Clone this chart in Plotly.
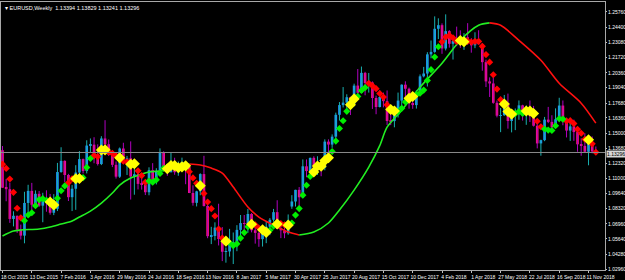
import plotly.graph_objects as go

# ---------------- data (EURUSD weekly) ----------------
tick_idx = list(range(0, 161, 8))
tick_text = ["18 Oct 2015", "13 Dec 2015", "7 Feb 2016", "3 Apr 2016", "29 May 2016",
             "24 Jul 2016", "18 Sep 2016", "13 Nov 2016", "8 Jan 2017", "5 Mar 2017",
             "30 Apr 2017", "25 Jun 2017", "20 Aug 2017", "15 Oct 2017", "10 Dec 2017",
             "4 Feb 2018", "1 Apr 2018", "27 May 2018", "22 Jul 2018", "16 Sep 2018",
             "11 Nov 2018"]

y_ticks = [1.25760, 1.24400, 1.23080, 1.21720, 1.20360, 1.19040, 1.17680, 1.16360, 1.15000,
           1.13680, 1.12320, 1.11000, 1.09640, 1.08320, 1.06960, 1.05640, 1.04280, 1.02960]

opens = [1.1350, 1.1017, 1.1004, 1.0740, 1.0768, 1.0645, 1.0592, 1.0882, 1.0989, 1.0866, 1.0963,
         1.0858, 1.0924, 1.0914, 1.0795, 1.0830, 1.1156, 1.1255, 1.1130, 1.0933, 1.1008,
         1.1152, 1.1271, 1.1165, 1.1391, 1.1399, 1.1284, 1.1227, 1.1454, 1.1403, 1.1308,
         1.1220, 1.1115, 1.1365, 1.1250, 1.1278, 1.1117, 1.1137, 1.1051, 1.1041, 1.0977,
         1.1173, 1.1086, 1.1160, 1.1325, 1.1199, 1.1154, 1.1233, 1.1155, 1.1228, 1.1240,
         1.1200, 1.0970, 1.0883, 1.0985, 1.1138, 1.0855, 1.0587, 1.0589, 1.0663, 1.0562,
         1.0449, 1.0452, 1.0520, 1.0530, 1.0643, 1.0703, 1.0697, 1.0784, 1.0640, 1.0616,
         1.0561, 1.0618, 1.0671, 1.0733, 1.0800, 1.0651, 1.0639, 1.0613, 1.0850, 1.0895,
         1.0998, 1.0932, 1.1207, 1.1165, 1.1282, 1.1196, 1.1197, 1.1195, 1.1426, 1.1400,
         1.1470, 1.1664, 1.1750, 1.1772, 1.1820, 1.1761, 1.1923, 1.1859, 1.2036, 1.1946,
         1.1951, 1.1813, 1.1733, 1.1822, 1.1785, 1.1609, 1.1608, 1.1665, 1.1790, 1.1931,
         1.1895, 1.1767, 1.1750, 1.1862, 1.2005, 1.2030, 1.2200, 1.2222, 1.2427, 1.2459,
         1.2252, 1.2406, 1.2294, 1.2318, 1.2307, 1.2290, 1.2352, 1.2323, 1.2280, 1.2330,
         1.2290, 1.2131, 1.1960, 1.1942, 1.1770, 1.1656, 1.1660, 1.1768, 1.1609, 1.1655,
         1.1684, 1.1748, 1.1685, 1.1719, 1.1655, 1.1567, 1.1410, 1.1439, 1.1621, 1.1601,
         1.1552, 1.1624, 1.1746, 1.1605, 1.1524, 1.1561, 1.1511, 1.1402, 1.1388, 1.1336,
         1.1418, 1.13394]

highs = [1.1387, 1.1095, 1.1063, 1.0808, 1.0770, 1.0690, 1.0981, 1.1043, 1.1060, 1.0993, 1.0988,
         1.0972, 1.0994, 1.0962, 1.0960, 1.1237, 1.1376, 1.1260, 1.1140, 1.1040, 1.1217,
         1.1342, 1.1276, 1.1438, 1.1454, 1.1465, 1.1402, 1.1474, 1.1616, 1.1445, 1.1350,
         1.1250, 1.1374, 1.1416, 1.1299, 1.1428, 1.1188, 1.1185, 1.1120, 1.1070, 1.1198,
         1.1235, 1.1190, 1.1366, 1.1340, 1.1200, 1.1327, 1.1283, 1.1250, 1.1284, 1.1252,
         1.1204, 1.1038, 1.0990, 1.1145, 1.1300, 1.0870, 1.0670, 1.0710, 1.0875, 1.0668,
         1.0487, 1.0652, 1.0620, 1.0685, 1.0775, 1.0775, 1.0829, 1.0792, 1.0680, 1.0630,
         1.0630, 1.0715, 1.0748, 1.0829, 1.0906, 1.0691, 1.0680, 1.0780, 1.0951, 1.0999,
         1.1023, 1.1268, 1.1268, 1.1284, 1.1296, 1.1296, 1.1218, 1.1446, 1.1446, 1.1490,
         1.1683, 1.1777, 1.1910, 1.1846, 1.1825, 1.1940, 1.2070, 1.2092, 1.2045, 1.2035,
         1.1960, 1.1834, 1.1880, 1.1861, 1.1880, 1.1689, 1.1669, 1.1861, 1.1934, 1.1961,
         1.1905, 1.1863, 1.1880, 1.2022, 1.2089, 1.2219, 1.2323, 1.2537, 1.2520, 1.2475,
         1.2555, 1.2415, 1.2355, 1.2446, 1.2413, 1.2388, 1.2477, 1.2344, 1.2396, 1.2414,
         1.2297, 1.2153, 1.1996, 1.1996, 1.1790, 1.1724, 1.1840, 1.1852, 1.1675, 1.1720,
         1.1791, 1.1753, 1.1746, 1.1791, 1.1743, 1.1620, 1.1443, 1.1645, 1.1734, 1.1660,
         1.1721, 1.1815, 1.1791, 1.1625, 1.1610, 1.1621, 1.1546, 1.1456, 1.1500, 1.1472,
         1.1472, 1.13829]

lows = [1.1017, 1.0897, 1.0705, 1.0674, 1.0616, 1.0558, 1.0524, 1.0796, 1.0804, 1.0851, 1.0848,
        1.0711, 1.0804, 1.0778, 1.0774, 1.0810, 1.1150, 1.1067, 1.0899, 1.0810, 1.0821,
        1.1058, 1.1144, 1.1144, 1.1331, 1.1234, 1.1214, 1.1218, 1.1383, 1.1298, 1.1200,
        1.1098, 1.1104, 1.1229, 1.1130, 1.0912, 1.0955, 1.1002, 1.1000, 1.0952, 1.0950,
        1.1045, 1.1046, 1.1148, 1.1195, 1.1123, 1.1154, 1.1132, 1.1123, 1.1161, 1.1048,
        1.0969, 1.0858, 1.0851, 1.0950, 1.0850, 1.0569, 1.0517, 1.0550, 1.0505, 1.0366,
        1.0352, 1.0406, 1.0340, 1.0454, 1.0580, 1.0620, 1.0618, 1.0621, 1.0521, 1.0493,
        1.0495, 1.0525, 1.0596, 1.0716, 1.0650, 1.0570, 1.0569, 1.0600, 1.0830, 1.0850,
        1.0839, 1.0925, 1.1110, 1.1160, 1.1185, 1.1131, 1.1119, 1.1172, 1.1313, 1.1371,
        1.1430, 1.1613, 1.1729, 1.1688, 1.1662, 1.1740, 1.1823, 1.1857, 1.1837, 1.1861,
        1.1716, 1.1669, 1.1729, 1.1730, 1.1574, 1.1572, 1.1553, 1.1640, 1.1715, 1.1810,
        1.1718, 1.1717, 1.1719, 1.1856, 1.1996, 1.1915, 1.2165, 1.2214, 1.2336, 1.2205,
        1.2235, 1.2260, 1.2154, 1.2273, 1.2258, 1.2240, 1.2285, 1.2215, 1.2255, 1.2290,
        1.2055, 1.1910, 1.1822, 1.1762, 1.1641, 1.1510, 1.1655, 1.1541, 1.1508, 1.1528,
        1.1620, 1.1613, 1.1575, 1.1600, 1.1560, 1.1366, 1.1301, 1.1430, 1.1590, 1.1526,
        1.1550, 1.1620, 1.1571, 1.1463, 1.1432, 1.1433, 1.1336, 1.1301, 1.1326, 1.1216,
        1.1322, 1.13241]

closes = [1.1017, 1.1004, 1.0740, 1.0768, 1.0645, 1.0592, 1.0882, 1.0989, 1.0866, 1.0963, 1.0858,
          1.0924, 1.0914, 1.0795, 1.0830, 1.1156, 1.1255, 1.1130, 1.0933, 1.1008, 1.1152,
          1.1271, 1.1165, 1.1391, 1.1399, 1.1284, 1.1227, 1.1454, 1.1403, 1.1308, 1.1220,
          1.1115, 1.1365, 1.1250, 1.1278, 1.1117, 1.1137, 1.1051, 1.1041, 1.0977, 1.1173,
          1.1086, 1.1160, 1.1325, 1.1199, 1.1154, 1.1233, 1.1155, 1.1228, 1.1240, 1.1200,
          1.0970, 1.0883, 1.0985, 1.1138, 1.0855, 1.0587, 1.0589, 1.0663, 1.0562, 1.0449,
          1.0452, 1.0520, 1.0530, 1.0643, 1.0703, 1.0697, 1.0784, 1.0640, 1.0616, 1.0561,
          1.0618, 1.0671, 1.0733, 1.0800, 1.0651, 1.0639, 1.0613, 1.0724, 1.0895, 1.0998,
          1.0932, 1.1207, 1.1165, 1.1282, 1.1196, 1.1197, 1.1195, 1.1426, 1.1400, 1.1470,
          1.1664, 1.1750, 1.1772, 1.1820, 1.1761, 1.1923, 1.1859, 1.2036, 1.1946, 1.1951,
          1.1813, 1.1733, 1.1822, 1.1785, 1.1609, 1.1608, 1.1665, 1.1790, 1.1931, 1.1895,
          1.1767, 1.1750, 1.1862, 1.2005, 1.2030, 1.2200, 1.2222, 1.2427, 1.2459, 1.2252,
          1.2406, 1.2294, 1.2318, 1.2307, 1.2290, 1.2352, 1.2323, 1.2280, 1.2330, 1.2290,
          1.2131, 1.1960, 1.1942, 1.1770, 1.1656, 1.1660, 1.1768, 1.1609, 1.1655, 1.1684,
          1.1748, 1.1685, 1.1719, 1.1655, 1.1567, 1.1410, 1.1439, 1.1621, 1.1601, 1.1552,
          1.1624, 1.1746, 1.1605, 1.1524, 1.1561, 1.1511, 1.1402, 1.1388, 1.1336, 1.1418,
          1.1339, 1.13296]

# signal dots (one per bar) and their colour code: r = falling, g = rising, y = flat
dot_values = [1.1226, 1.1188, 1.1094, 1.0976, 1.0835, 1.0750, 1.0725, 1.0775, 1.0795, 1.0858, 1.0912,
              1.0920, 1.0905, 1.0891, 1.0864, 1.0924, 1.0990, 1.1033, 1.1061, 1.1096, 1.1096,
              1.1099, 1.1106, 1.1197, 1.1276, 1.1302, 1.1293, 1.1351, 1.1353, 1.1335, 1.1322,
              1.1300, 1.1282, 1.1252, 1.1246, 1.1225, 1.1229, 1.1167, 1.1125, 1.1065, 1.1076,
              1.1066, 1.1087, 1.1144, 1.1189, 1.1185, 1.1214, 1.1213, 1.1194, 1.1202, 1.1211,
              1.1159, 1.1104, 1.1056, 1.1035, 1.0966, 1.0890, 1.0831, 1.0766, 1.0651, 1.0570,
              1.0543, 1.0529, 1.0503, 1.0519, 1.0570, 1.0619, 1.0671, 1.0693, 1.0688, 1.0660,
              1.0644, 1.0621, 1.0640, 1.0677, 1.0695, 1.0699, 1.0687, 1.0685, 1.0704, 1.0774,
              1.0832, 1.0951, 1.1039, 1.1117, 1.1156, 1.1209, 1.1207, 1.1259, 1.1283, 1.1338,
              1.1431, 1.1542, 1.1611, 1.1695, 1.1753, 1.1805, 1.1827, 1.1880, 1.1905, 1.1943,
              1.1921, 1.1896, 1.1853, 1.1821, 1.1752, 1.1711, 1.1698, 1.1691, 1.1721, 1.1778,
              1.1810, 1.1827, 1.1841, 1.1856, 1.1883, 1.1969, 1.2064, 1.2177, 1.2268, 1.2312,
              1.2353, 1.2368, 1.2346, 1.2315, 1.2323, 1.2312, 1.2318, 1.2310, 1.2315, 1.2315,
              1.2271, 1.2198, 1.2131, 1.2019, 1.1892, 1.1798, 1.1759, 1.1693, 1.1670, 1.1675,
              1.1693, 1.1676, 1.1698, 1.1698, 1.1675, 1.1607, 1.1558, 1.1538, 1.1528, 1.1525,
              1.1567, 1.1629, 1.1626, 1.1610, 1.1612, 1.1586, 1.1536, 1.1500, 1.1447, 1.1443,
              1.1406, 1.1332]

dot_codes = list("rrrrrr" "ggggggg" "yy" "ggg" "rr" "yy" "ggg" "rr" "yy" "rrr" "y" "rr" "yy"
                 "rrr" "ggggg" "yyyyyy" "rrr" "y" "rrrrrr" "y" "gggggg" "y" "rr" "yy" "gg"
                 "y" "rr" "y" "gggggg" "yyyyy" "ggggg" "yy" "ggg" "rrrrrr" "yy" "ggg" "yy"
                 "ggggggg" "rrrrr" "yy" "rrrrrrrrrr" "yyy" "ggg" "yyy" "rr" "gggggg"
                 "rrrrrr" "y" "rr")

# slow trend line, sampled readings (bar index, price) per coloured leg
trend_up1_idx = [0, 3, 5, 10, 13, 16, 19, 21, 24, 27, 30, 32, 35, 38, 40, 44, 47, 51]
trend_up1_val = [1.0589, 1.0633, 1.0642, 1.0651, 1.0668, 1.0695, 1.0722, 1.0757, 1.0810,
                 1.0881, 1.0970, 1.1041, 1.1103, 1.1138, 1.1156, 1.1169, 1.1200, 1.1227]
trend_dn1_idx = [51, 54, 57, 60, 63, 67, 70, 74, 78, 81]
trend_dn1_val = [1.1227, 1.1218, 1.1191, 1.1147, 1.1023, 1.0846, 1.0757, 1.0686, 1.0624, 1.0598]
trend_up2_idx = [81, 85, 89, 92, 96, 100, 103, 105, 109, 114, 120, 125, 130, 133]
trend_up2_val = [1.0598, 1.0624, 1.0704, 1.0819, 1.0996, 1.1200, 1.1390, 1.1554, 1.1705,
                 1.1909, 1.2122, 1.2325, 1.2458, 1.2479]
trend_dn2_idx = [133, 136, 141, 147, 152, 158, 162]
trend_dn2_val = [1.2479, 1.2458, 1.2325, 1.2148, 1.1944, 1.1767, 1.1590]

title_text = "EURUSD,Weekly  1.13394 1.13829 1.13241 1.13296"
last_price = 1.13296

# ---------------- figure ----------------
n = len(closes)
idx = list(range(n))
bull = [i for i in idx if closes[i] >= opens[i]]
bear = [i for i in idx if closes[i] < opens[i]]

fig = go.Figure()


def wick_xy(sel):
    xs, ys = [], []
    for i in sel:
        xs += [i, i, None]
        ys += [lows[i], highs[i], None]
    return xs, ys


for sel, col in ((bull, "#19b0b0"), (bear, "#b000c0")):
    wx, wy = wick_xy(sel)
    fig.add_trace(go.Scatter(x=wx, y=wy, mode="lines", line=dict(color=col, width=1),
                             hoverinfo="skip"))

for sel, col in ((bull, "#1e90ff"), (bear, "#ff1478")):
    fig.add_trace(go.Bar(x=sel, base=[opens[i] for i in sel],
                         y=[closes[i] - opens[i] for i in sel],
                         width=0.72, marker=dict(color=col, line=dict(width=0))))

for xs, ys, col in ((trend_up1_idx, trend_up1_val, "#22ee22"),
                    (trend_dn1_idx, trend_dn1_val, "#ff1010"),
                    (trend_up2_idx, trend_up2_val, "#22ee22"),
                    (trend_dn2_idx, trend_dn2_val, "#ff1010")):
    fig.add_trace(go.Scatter(x=xs, y=ys, mode="lines",
                             line=dict(color=col, width=1.6, shape="spline", smoothing=0.8)))

dot_style = {"r": ("#ff0000", 5.5), "g": ("#00ee00", 5.5), "y": ("#ffff00", 8.5)}
for code in ("r", "g", "y"):
    sel = [i for i in range(min(n, len(dot_codes))) if dot_codes[i] == code]
    col, size = dot_style[code]
    fig.add_trace(go.Scatter(x=sel, y=[dot_values[i] for i in sel], mode="markers",
                             marker=dict(symbol="diamond", size=size, color=col,
                                         line=dict(width=0))))

small_font = "Liberation Sans, Arial, sans-serif"
axis_font = dict(family=small_font, size=5, color="#ffffff")

fig.update_layout(
    width=625, height=280,
    margin=dict(l=1, r=20, t=2, b=10, autoexpand=False),
    paper_bgcolor="#000000", plot_bgcolor="#000000",
    showlegend=False, barmode="overlay",
    xaxis=dict(range=[-0.41, 164.5], tickvals=tick_idx, ticktext=tick_text,
               tickfont=axis_font, tickangle=0, automargin=False,
               ticks="outside", ticklen=2, tickcolor="#c0c0c0",
               showgrid=False, zeroline=False, showline=True, linecolor="#a8a8a8",
               linewidth=1, mirror=True, ticklabelshift=12, ticklabelstandoff=0),
    yaxis=dict(range=[1.02871, 1.26646], side="right", tickvals=y_ticks,
               ticktext=["%.5f" % v for v in y_ticks], tickfont=axis_font,
               automargin=False, ticks="outside", ticklen=1, tickcolor="#c0c0c0",
               showgrid=False, zeroline=False, showline=True, linecolor="#a8a8a8",
               linewidth=1, mirror=True, ticklabelstandoff=0),
    shapes=[dict(type="line", xref="paper", x0=0, x1=1, yref="y", y0=last_price,
                 y1=last_price, line=dict(color="#8a8a8a", width=1))],
    annotations=[
        dict(xref="paper", yref="y", x=1, y=last_price, xanchor="left", yanchor="middle",
             text="%.5f" % last_price, showarrow=False, bgcolor="#d8d8d8",
             font=dict(family=small_font, size=5, color="#000000"),
             borderpad=0, xshift=1, yshift=-2),
        dict(xref="paper", yref="paper", x=0, y=1, xanchor="left", yanchor="top",
             text="\u25be " + title_text, showarrow=False,
             font=dict(family=small_font, size=5.5, color="#ffffff"),
             xshift=2, yshift=-1),
    ],
)

fig.write_html("out.html")
